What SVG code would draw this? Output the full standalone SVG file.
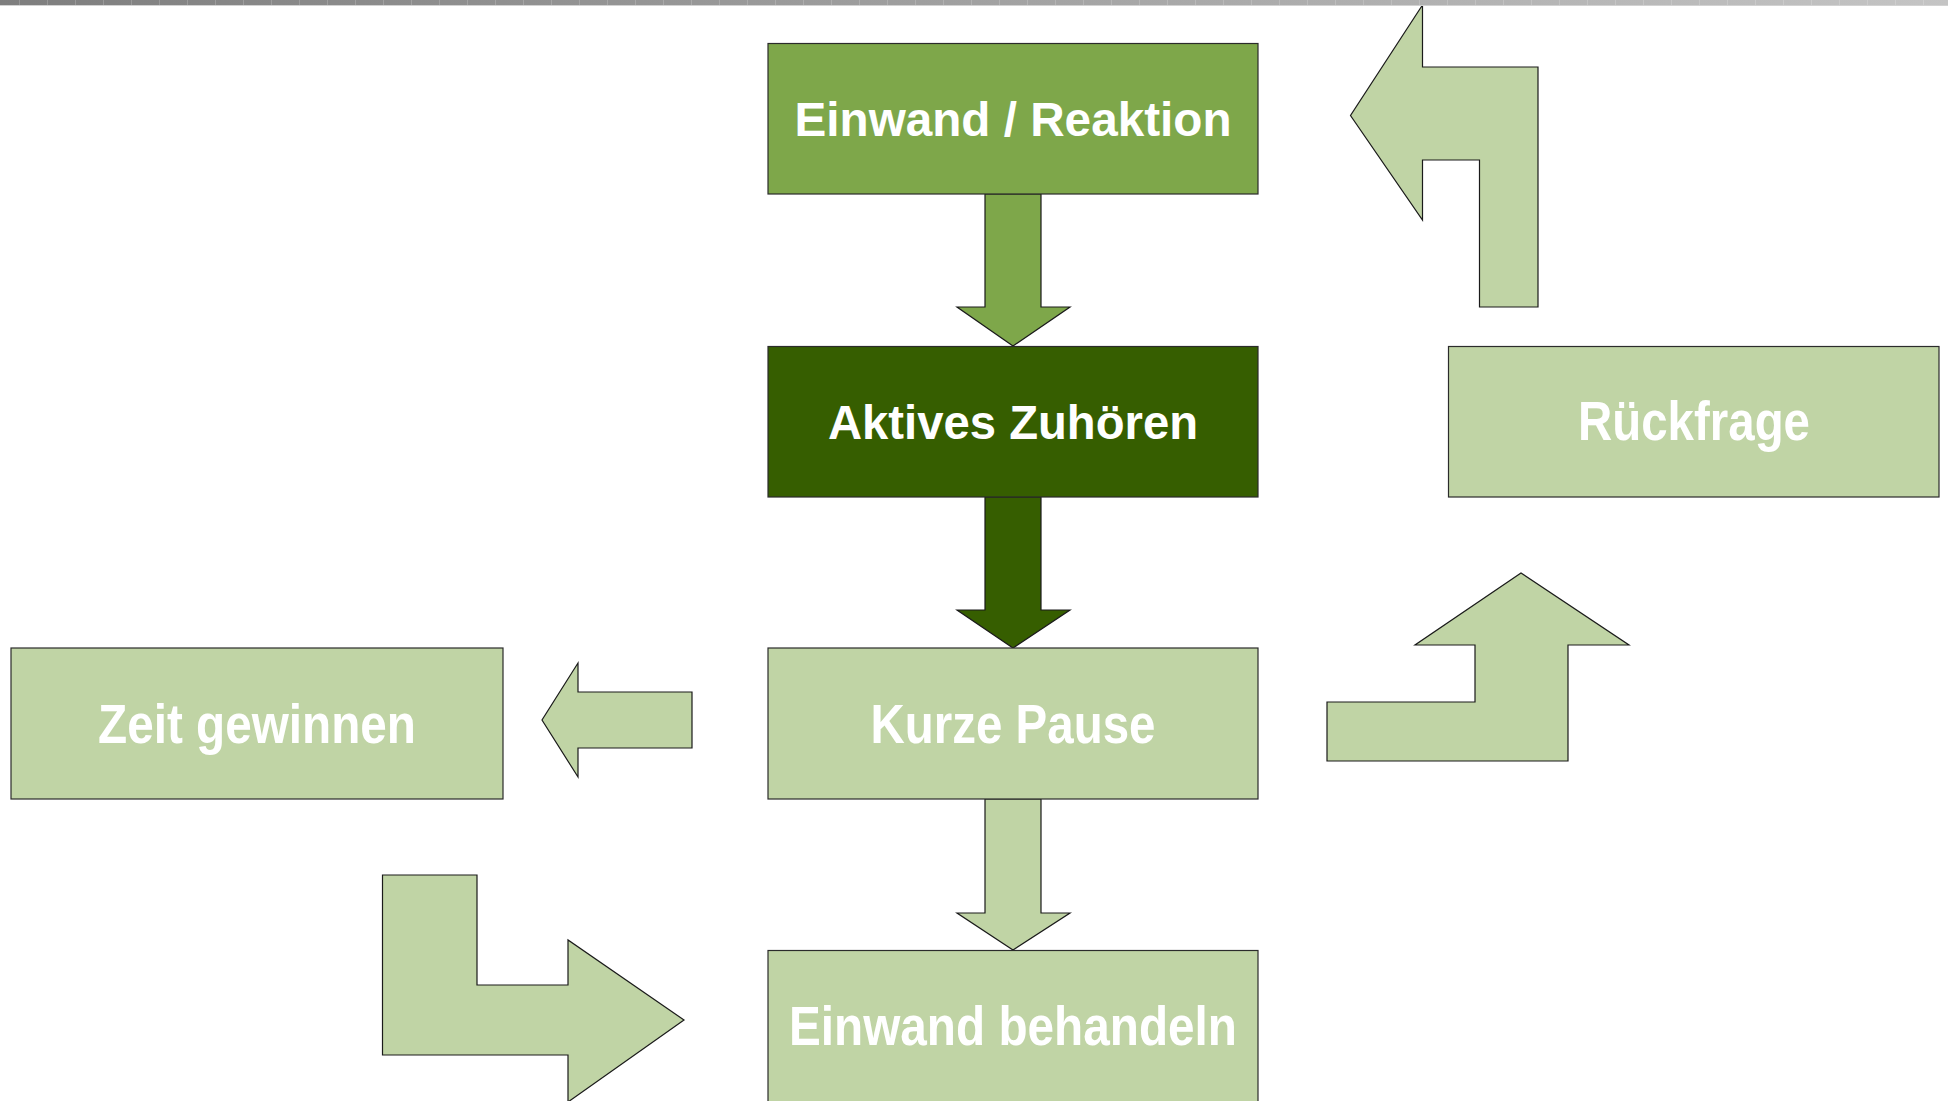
<svg xmlns="http://www.w3.org/2000/svg" width="1948" height="1101" viewBox="0 0 1948 1101">
<defs>
<linearGradient id="barGrad" x1="0" y1="0" x2="1" y2="0">
<stop offset="0" stop-color="#7e7e7e"/>
<stop offset="1" stop-color="#c4c4c4"/>
</linearGradient>
<pattern id="ticks" x="0" y="0" width="28" height="6" patternUnits="userSpaceOnUse">
<rect x="19" y="0" width="1" height="6" fill="#ffffff" fill-opacity="0.18"/>
</pattern>
</defs>
<style>
.box{stroke:#2b2b2b;stroke-width:1.2}
.mid{fill:#7ea74a}
.dark{fill:#365e00}
.light{fill:#c0d4a5}
.arrow{stroke:#1a1a1a;stroke-width:1.2;stroke-linejoin:miter}
.lbl{font-family:"Liberation Sans",Arial,sans-serif;font-weight:bold;fill:#ffffff;text-anchor:middle}
.big{font-size:48px}
.narrow{font-size:55px}
</style>
<rect width="1948" height="1101" fill="#ffffff"/>

<g id="connectors">
<polygon class="arrow mid" points="985,194 1041,194 1041,307 1070,307 1013,346 957,307 985,307"/>
<polygon class="arrow dark" points="985,497 1041,497 1041,610 1070,610 1013,648 957,610 985,610"/>
<polygon class="arrow light" points="985,799 1041,799 1041,913 1070,913 1013,950 957,913 985,913"/>
<polygon class="arrow light" points="692,692 578,692 578,663 542,720 578,777 578,748 692,748"/>
<polygon class="arrow light" points="1327,702 1475,702 1475,645 1415,645 1521,573 1629,645 1568,645 1568,761 1327,761"/>
<polygon class="arrow light" points="1422.5,5 1422.5,67 1538,67 1538,307 1479.5,307 1479.5,160 1422.5,160 1422.5,220 1350.5,115.5"/>
<polygon class="arrow light" points="382.5,875 477,875 477,985 568,985 568,940 684,1020 568,1102 568,1055 382.5,1055"/>
</g>

<g id="node-einwand-reaktion">
<rect class="box mid" x="768" y="43.5" width="490" height="150.5"/>
<text class="lbl big" x="1013" y="136" textLength="437" lengthAdjust="spacingAndGlyphs">Einwand / Reaktion</text>
</g>
<g id="node-aktives-zuhoeren">
<rect class="box dark" x="768" y="346.5" width="490" height="150.5"/>
<text class="lbl big" x="1013" y="439" textLength="370" lengthAdjust="spacingAndGlyphs">Aktives Zuhören</text>
</g>
<g id="node-kurze-pause">
<rect class="box light" x="768" y="648" width="490" height="151"/>
<text class="lbl narrow" x="1013" y="743" textLength="285" lengthAdjust="spacingAndGlyphs">Kurze Pause</text>
</g>
<g id="node-einwand-behandeln">
<rect class="box light" x="768" y="950.5" width="490" height="160"/>
<text class="lbl narrow" x="1013" y="1045" textLength="448" lengthAdjust="spacingAndGlyphs">Einwand behandeln</text>
</g>
<g id="node-rueckfrage">
<rect class="box light" x="1448.5" y="346.5" width="490.5" height="150.5"/>
<text class="lbl narrow" x="1694" y="440" textLength="232" lengthAdjust="spacingAndGlyphs">Rückfrage</text>
</g>
<g id="node-zeit-gewinnen">
<rect class="box light" x="11" y="648" width="492" height="151"/>
<text class="lbl narrow" x="257" y="743" textLength="318" lengthAdjust="spacingAndGlyphs">Zeit gewinnen</text>
</g>

<g id="top-bar">
<rect x="0" y="0" width="1948" height="5" fill="url(#barGrad)"/>
<rect x="0" y="0" width="1948" height="5" fill="url(#ticks)"/>
<rect x="0" y="5" width="1948" height="1" fill="#d2d2d2"/>
</g>
</svg>
